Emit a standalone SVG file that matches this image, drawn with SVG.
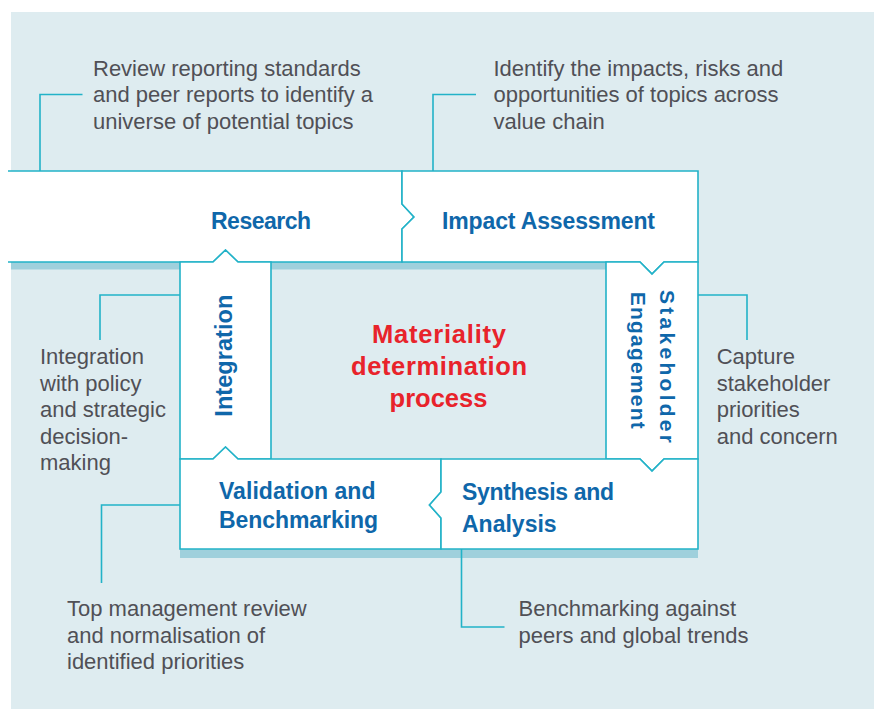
<svg xmlns="http://www.w3.org/2000/svg" width="874" height="709" viewBox="0 0 874 709">
<style>
.box{fill:#ffffff;stroke:#22b2c8;stroke-width:1.6;stroke-linejoin:miter}
.sh{fill:#9fd0dc}
.ln{fill:none;stroke:#22b2c8;stroke-width:1.6}
.note{font-family:"Liberation Sans",Arial,sans-serif;font-size:22px;fill:#505056}
.lbl{font-family:"Liberation Sans",Arial,sans-serif;font-size:23px;font-weight:bold;fill:#0f67aa}
.mid{font-family:"Liberation Sans",Arial,sans-serif;font-size:25.5px;font-weight:bold;fill:#e8232b;text-anchor:middle}
</style>
<rect x="0" y="0" width="874" height="709" fill="#ffffff"/>
<rect x="11" y="12" width="863" height="697" fill="#deecf0"/>
<rect class="sh" x="11" y="262" width="595" height="7.5"/>
<rect class="sh" x="180" y="549" width="518" height="9"/>
<g id="connectors">
<polyline class="ln" points="40,171 40,94.5 82.5,94.5"/>
<polyline class="ln" points="433,171 433,94.5 476,94.5"/>
<polyline class="ln" points="180,295 100,295 100,340"/>
<polyline class="ln" points="698,295 747,295 747,340"/>
<polyline class="ln" points="180,505 101.5,505 101.5,583"/>
<polyline class="ln" points="461.5,549 461.5,627 504.5,627"/>
</g>
<g id="research">
<path class="box" d="M8,171 H402 V204 L414,217 L402,229 V262 H238 L225.5,250 L213,262 H8"/>
<text class="lbl" x="211" y="229" textLength="100" lengthAdjust="spacing">Research</text>
</g>
<g id="impact-assessment">
<path class="box" d="M402,171 H698 V262 H664 L652,274 L640,262 H402 V229 L414,217 L402,204 Z"/>
<text class="lbl" x="442" y="229" textLength="213" lengthAdjust="spacing">Impact Assessment</text>
</g>
<g id="stakeholder-engagement">
<path class="box" d="M606,262 H640 L652,274 L664,262 H698 V459 H664 L652,471 L640,459 H606 Z"/>
<text class="lbl" style="font-size:21px" transform="translate(659.5,290) rotate(90)" x="0" y="0" textLength="153" lengthAdjust="spacing">Stakeholder</text>
<text class="lbl" style="font-size:21px" transform="translate(631,291.7) rotate(90)" x="0" y="0" textLength="137" lengthAdjust="spacing">Engagement</text>
</g>
<g id="integration">
<path class="box" d="M180,262 H213 L225.5,250 L238,262 H271 V459 H238 L225.5,447 L213,459 H180 Z"/>
<text class="lbl" style="font-size:23.5px" transform="translate(232,416.7) rotate(-90)" x="0" y="0" textLength="122" lengthAdjust="spacing">Integration</text>
</g>
<g id="validation-benchmarking">
<path class="box" d="M180,459 H213 L225.5,447 L238,459 H441 V492 L429.5,505 L441,518 V549 H180 Z"/>
<text class="lbl" x="219" y="499" textLength="156.5" lengthAdjust="spacing">Validation and</text>
<text class="lbl" x="219" y="528.3" textLength="159" lengthAdjust="spacing">Benchmarking</text>
</g>
<g id="synthesis-analysis">
<path class="box" d="M441,459 H640 L652,471 L664,459 H698 V549 H441 V518 L429.5,505 L441,492 Z"/>
<text class="lbl" x="462" y="500" textLength="152" lengthAdjust="spacing">Synthesis and</text>
<text class="lbl" x="462" y="531.7">Analysis</text>
</g>
<g id="materiality-process">
<text class="mid" x="439" y="342.7" textLength="134" lengthAdjust="spacing">Materiality</text>
<text class="mid" x="439" y="375" textLength="176" lengthAdjust="spacing">determination</text>
<text class="mid" x="438.5" y="406.7">process</text>
</g>
<g id="note-research">
<text class="note" x="93" y="75.5">Review reporting standards</text>
<text class="note" x="93" y="102">and peer reports to identify a</text>
<text class="note" x="93" y="128.5">universe of potential topics</text>
</g>
<g id="note-impact">
<text class="note" x="493.5" y="75.5">Identify the impacts, risks and</text>
<text class="note" x="493.5" y="102">opportunities of topics across</text>
<text class="note" x="493.5" y="128.5">value chain</text>
</g>
<g id="note-integration">
<text class="note" x="40" y="364.3">Integration</text>
<text class="note" x="40" y="390.8">with policy</text>
<text class="note" x="40" y="417.3">and strategic</text>
<text class="note" x="40" y="443.8">decision-</text>
<text class="note" x="40" y="470.3">making</text>
</g>
<g id="note-stakeholder">
<text class="note" x="716.7" y="364.3">Capture</text>
<text class="note" x="716.7" y="390.8">stakeholder</text>
<text class="note" x="716.7" y="417.3">priorities</text>
<text class="note" x="716.7" y="443.8">and concern</text>
</g>
<g id="note-validation">
<text class="note" x="67" y="616">Top management review</text>
<text class="note" x="67" y="642.5">and normalisation of</text>
<text class="note" x="67" y="669">identified priorities</text>
</g>
<g id="note-synthesis">
<text class="note" x="518.5" y="616">Benchmarking against</text>
<text class="note" x="518.5" y="642.5">peers and global trends</text>
</g>
</svg>
